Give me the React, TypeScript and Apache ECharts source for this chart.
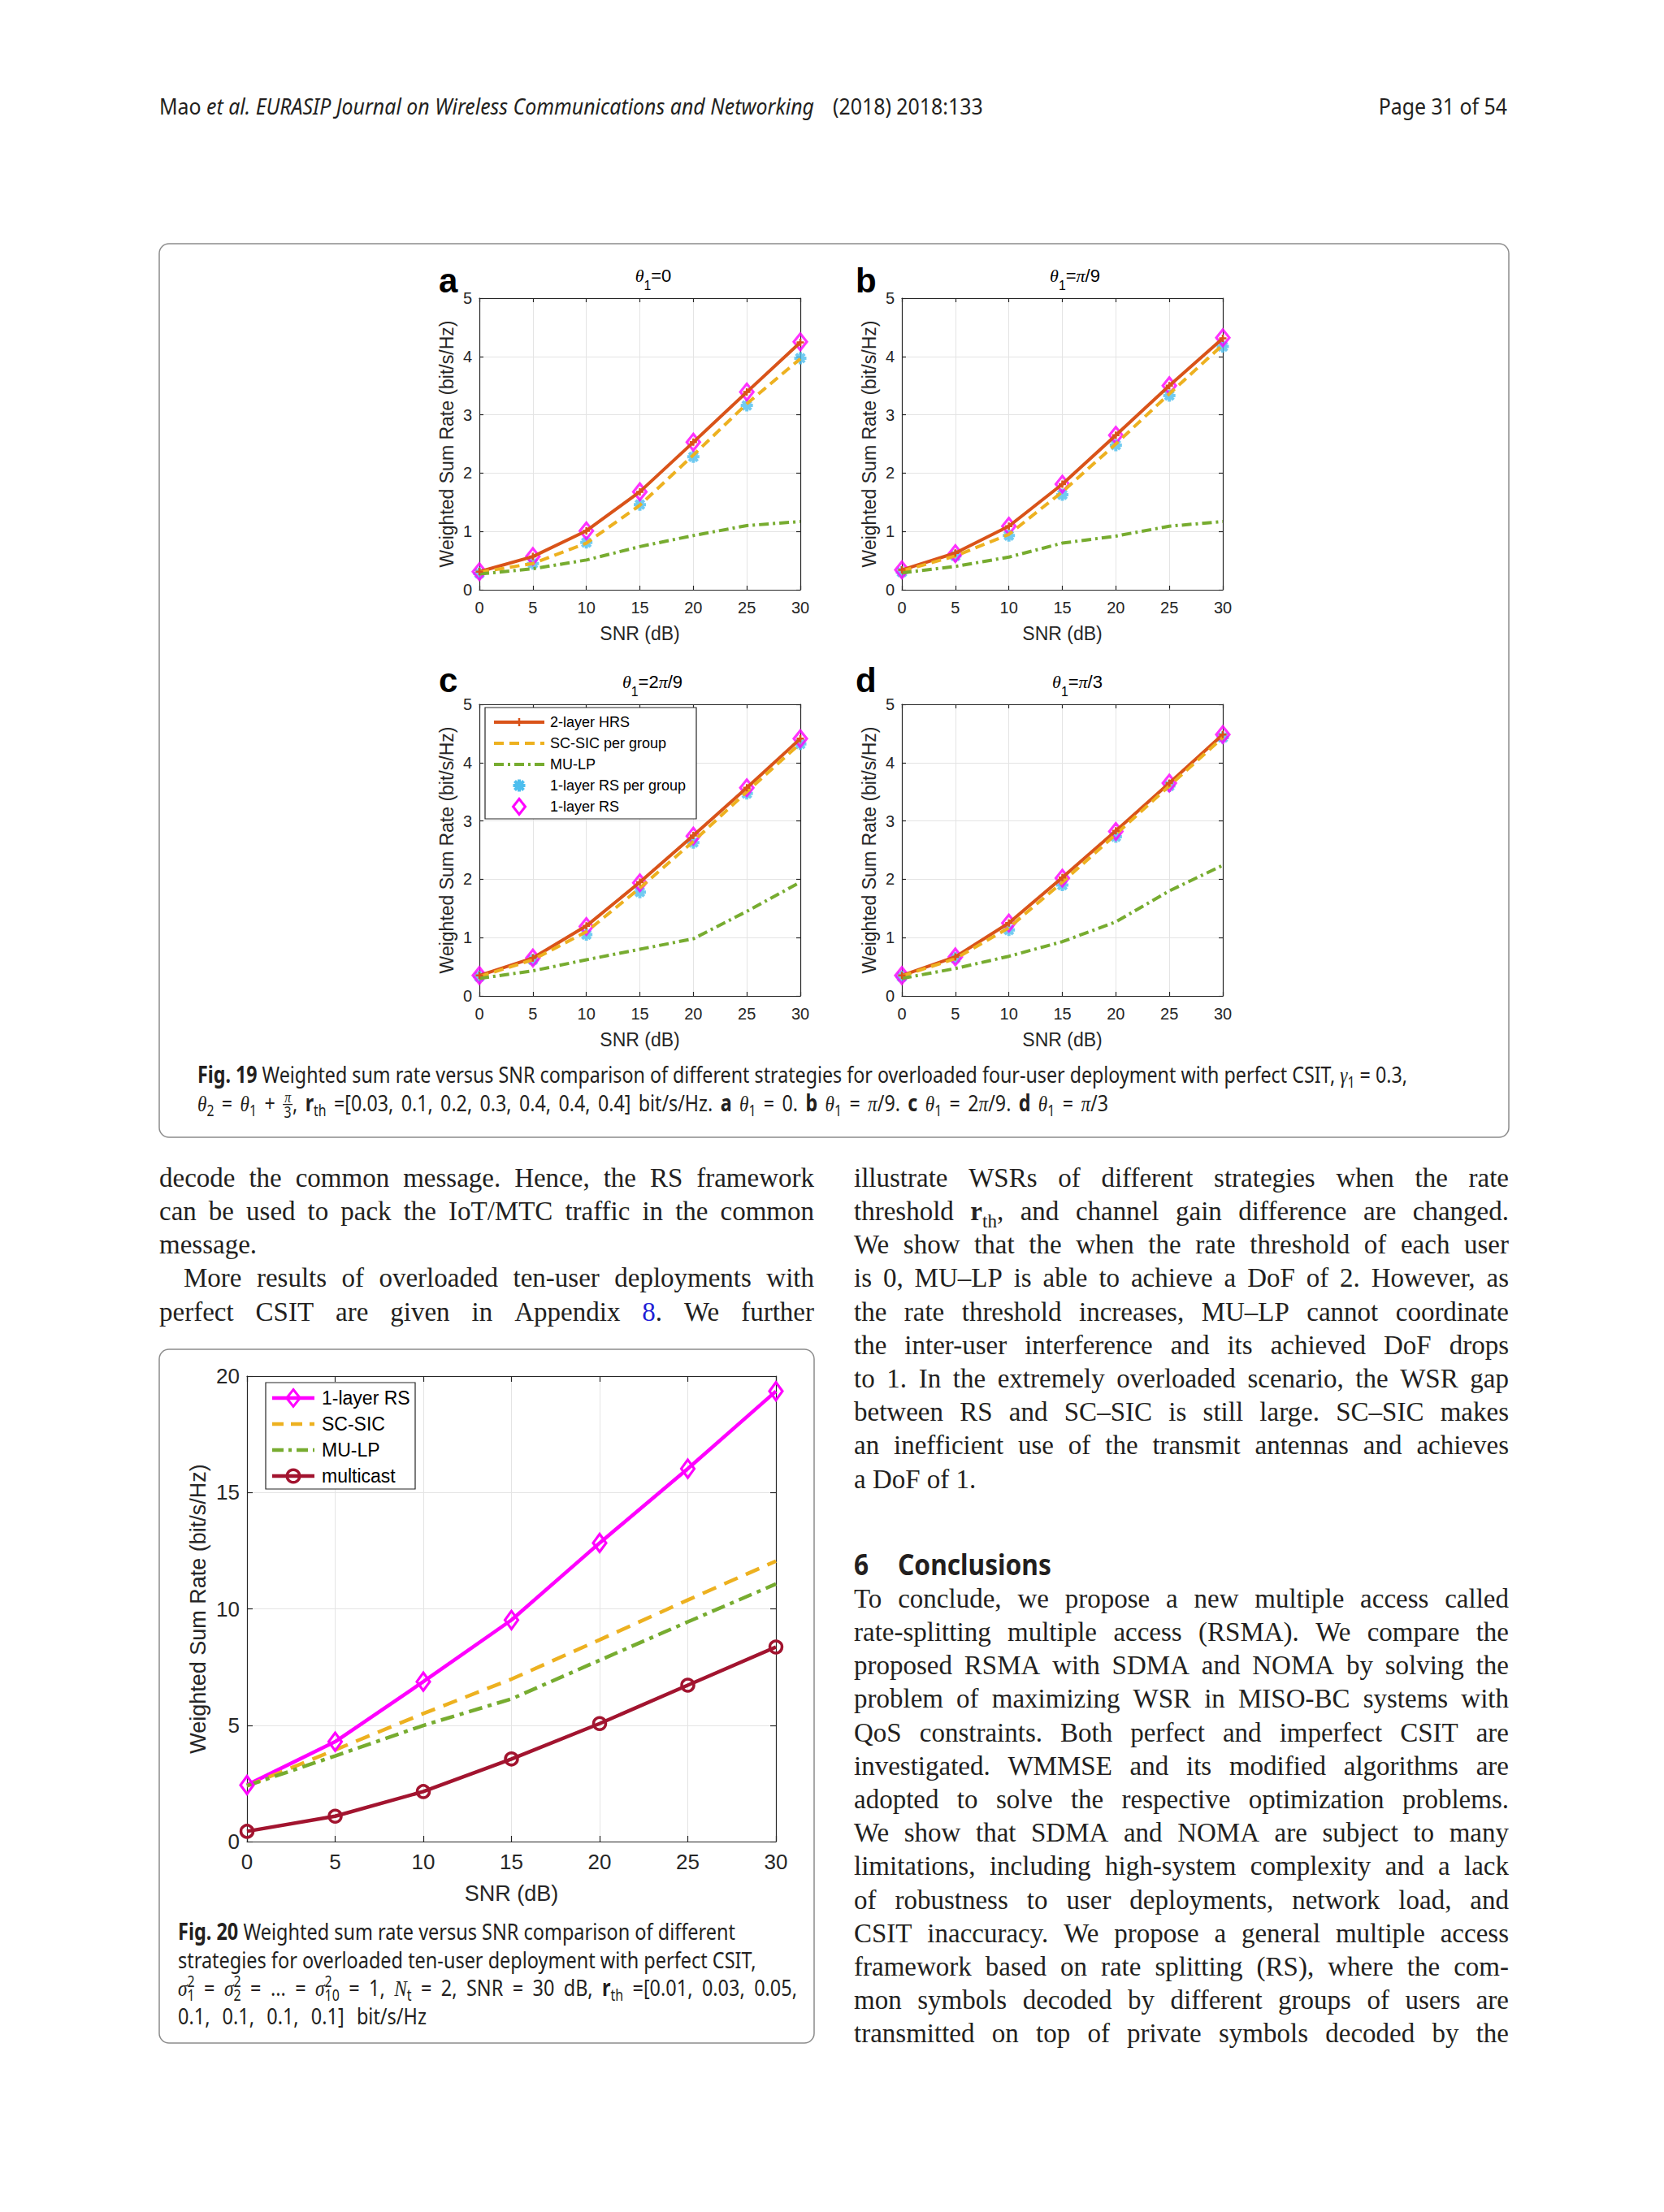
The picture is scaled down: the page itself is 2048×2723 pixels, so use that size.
import React, { useEffect, useRef } from "react";
import * as echarts from "echarts";

// ---------------- data ----------------
const snrDb = [0, 5, 10, 15, 20, 25, 30];
const xMax = 30;
const xStep = 5;
const panelYMax = 5;
const panelYStep = 1;
const f20YMax = 20;
const f20YStep = 5;

const names19 = ["2-layer HRS", "SC-SIC per group", "MU-LP", "1-layer RS per group", "1-layer RS"];
const names20 = ["1-layer RS", "SC-SIC", "MU-LP", "multicast"];

const aHrs = [0.31, 0.57, 1.01, 1.68, 2.53, 3.39, 4.24];
const aSic = [0.3, 0.45, 0.8, 1.45, 2.31, 3.19, 3.96];
const aMulp = [0.27, 0.36, 0.51, 0.74, 0.93, 1.1, 1.17];
const aRsGroup = [0.28, 0.45, 0.81, 1.46, 2.28, 3.16, 3.97];
const aRs1 = [0.31, 0.57, 1.01, 1.68, 2.53, 3.39, 4.25];

const bHrs = [0.34, 0.63, 1.09, 1.81, 2.65, 3.5, 4.31];
const bSic = [0.32, 0.58, 0.95, 1.68, 2.5, 3.36, 4.2];
const bMulp = [0.29, 0.4, 0.56, 0.8, 0.92, 1.09, 1.17];
const bRsGroup = [0.3, 0.58, 0.93, 1.63, 2.48, 3.33, 4.17];
const bRs1 = [0.34, 0.62, 1.09, 1.81, 2.65, 3.5, 4.32];

const cHrs = [0.35, 0.65, 1.2, 1.95, 2.75, 3.57, 4.41];
const cSic = [0.33, 0.62, 1.1, 1.85, 2.65, 3.5, 4.33];
const cMulp = [0.3, 0.43, 0.62, 0.8, 0.98, 1.45, 1.95];
const cRsGroup = [0.33, 0.62, 1.05, 1.78, 2.63, 3.47, 4.32];
const cRs1 = [0.35, 0.65, 1.19, 1.94, 2.74, 3.57, 4.41];

const dHrs = [0.35, 0.67, 1.25, 2.03, 2.83, 3.65, 4.48];
const dSic = [0.34, 0.64, 1.17, 1.95, 2.77, 3.6, 4.43];
const dMulp = [0.3, 0.47, 0.68, 0.93, 1.27, 1.8, 2.24];
const dRsGroup = [0.33, 0.65, 1.13, 1.9, 2.73, 3.6, 4.43];
const dRs1 = [0.35, 0.67, 1.25, 2.02, 2.82, 3.65, 4.48];

const f20Rs1 = [2.43, 4.29, 6.87, 9.52, 12.83, 16.02, 19.35];
const f20Sic = [2.39, 3.94, 5.5, 6.98, 8.67, 10.38, 12.05];
const f20Mulp = [2.4, 3.68, 4.99, 6.13, 7.79, 9.44, 11.07];
const f20Multicast = [0.44, 1.09, 2.15, 3.55, 5.07, 6.72, 8.36];

// ---------------- texts ----------------
const panelLetters = ["a", "b", "c", "d"];
const panelTitles = ["~i{θ}~s{1}=0", "~i{θ}~s{1}=~i{π}/9", "~i{θ}~s{1}=2~i{π}/9", "~i{θ}~s{1}=~i{π}/3"];
const xAxisName = "SNR (dB)";
const yAxisName = "Weighted Sum Rate (bit/s/Hz)";

const headerLeft = "Mao ~e{et al. EURASIP Journal on Wireless Communications and Networking}";
const headerMid = "(2018) 2018:133";
const headerRight = "Page 31 of 54";

const caption19 = [
  "~b{Fig. 19} Weighted sum rate versus SNR comparison of different strategies for overloaded four-user deployment with perfect CSIT, ~i{γ}~s{1} = 0.3,",
  "~i{θ}~s{2} = ~i{θ}~s{1} + ~f{π}{3}, ~b{r}~s{th} =[0.03, 0.1, 0.2, 0.3, 0.4, 0.4, 0.4] bit/s/Hz. ~b{a} ~i{θ}~s{1} = 0. ~b{b} ~i{θ}~s{1} = ~i{π}/9. ~b{c} ~i{θ}~s{1} = 2~i{π}/9. ~b{d} ~i{θ}~s{1} = ~i{π}/3",
];
const caption20 = [
  "~b{Fig. 20} Weighted sum rate versus SNR comparison of different",
  "strategies for overloaded ten-user deployment with perfect CSIT,",
  "~i{σ}~z{2}{1} = ~i{σ}~z{2}{2} = ... = ~i{σ}~z{2}{10} = 1, ~i{N}~s{t} = 2, SNR = 30 dB, ~b{r}~s{th} =[0.01, 0.03, 0.05,",
  "0.1, 0.1, 0.1, 0.1] bit/s/Hz",
];

const leftColumn = [
  "decode the common message. Hence, the RS framework",
  "can be used to pack the IoT/MTC traffic in the common",
  "message.",
  "More results of overloaded ten-user deployments with",
  "perfect CSIT are given in Appendix ~c{8}. We further",
];
const leftJustify = [true, true, false, true, true];
const leftIndent = [0, 0, 0, 30, 0];

const rightColumn = [
  "illustrate WSRs of different strategies when the rate",
  "threshold ~b{r}~s{th}, and channel gain difference are changed.",
  "We show that the when the rate threshold of each user",
  "is 0, MU–LP is able to achieve a DoF of 2. However, as",
  "the rate threshold increases, MU–LP cannot coordinate",
  "the inter-user interference and its achieved DoF drops",
  "to 1. In the extremely overloaded scenario, the WSR gap",
  "between RS and SC–SIC is still large. SC–SIC makes",
  "an inefficient use of the transmit antennas and achieves",
  "a DoF of 1.",
];
const sectionNumber = "6";
const sectionTitle = "Conclusions";
const conclusionLines = [
  "To conclude, we propose a new multiple access called",
  "rate-splitting multiple access (RSMA). We compare the",
  "proposed RSMA with SDMA and NOMA by solving the",
  "problem of maximizing WSR in MISO-BC systems with",
  "QoS constraints. Both perfect and imperfect CSIT are",
  "investigated. WMMSE and its modified algorithms are",
  "adopted to solve the respective optimization problems.",
  "We show that SDMA and NOMA are subject to many",
  "limitations, including high-system complexity and a lack",
  "of robustness to user deployments, network load, and",
  "CSIT inaccuracy. We propose a general multiple access",
  "framework based on rate splitting (RS), where the com-",
  "mon symbols decoded by different groups of users are",
  "transmitted on top of private symbols decoded by the",
];

// ---------------- styling ----------------
const SANS = "Liberation Sans";
const SERIF = "Liberation Serif";
const CAPF = "Noto Sans";
const C = {
  hrs: "#D95319",
  sic: "#EDB120",
  mulp: "#77AC30",
  rsg: "#4DBEEE",
  rs: "#FF00FF",
  mc: "#A2142F",
  ink: "#262626",
  text: "#231F20",
  grid: "#E4E4E4",
};
const PLUS = "path://M5,0L5,10M0,5L10,5";
const AST = "path://M10,0L10,20M0,10L20,10M3,3L17,17M3,17L17,3";

const panelGrids = [
  { left: 590, top: 367, width: 395, height: 359 },
  { left: 1110, top: 367, width: 395, height: 359 },
  { left: 590, top: 867, width: 395, height: 359 },
  { left: 1110, top: 867, width: 395, height: 359 },
];
const f20Grid = { left: 304, top: 1694, width: 651, height: 573 };

// ---------------- text layout helpers ----------------
type Fnt = { family: string; size: number; weight: string; style: string };
type Run = {
  family: string;
  math: string;
  size: number;
  color: string;
  weight?: string;
  style?: string;
  sub?: number;
  subDy?: number;
  supDy?: number;
  z?: number;
};
type Piece = {
  t: string;
  b?: boolean;
  i?: boolean;
  e?: boolean;
  sub?: boolean;
  sup?: boolean;
  blue?: boolean;
  stack?: [string, string];
  frac?: [string, string];
};

const KMAP: Record<string, number> = { "Liberation Sans": 0.3465, "Liberation Serif": 0.3375, "Noto Sans": 0.388 };
let measureCtx: CanvasRenderingContext2D | null = null;
function mw(t: string, f: Fnt): number {
  if (!measureCtx) measureCtx = document.createElement("canvas").getContext("2d");
  measureCtx!.font = `${f.style} ${f.weight} ${f.size}px "${f.family}"`;
  return measureCtx!.measureText(t).width;
}
function textEl(t: string, x: number, baseY: number, f: Fnt, fill: string, align: string, z?: number): any {
  return {
    type: "text",
    x,
    y: baseY - (KMAP[f.family] ?? 0.35) * f.size,
    z: z ?? 10,
    silent: true,
    style: {
      text: t,
      fontFamily: f.family,
      fontSize: f.size,
      fontWeight: f.weight,
      fontStyle: f.style,
      fill,
      textAlign: align,
      textVerticalAlign: "middle",
    },
  };
}
function parse(src: string): Piece[] {
  const out: Piece[] = [];
  let buf = "";
  let i = 0;
  const flush = () => {
    if (buf) {
      out.push({ t: buf });
      buf = "";
    }
  };
  while (i < src.length) {
    const ch = src[i];
    if (ch === "~" && src[i + 2] === "{") {
      flush();
      const cmd = src[i + 1];
      const j = src.indexOf("}", i + 3);
      const a = src.slice(i + 3, j);
      i = j + 1;
      if (cmd === "z" || cmd === "f") {
        const k = src.indexOf("}", i + 1);
        const b = src.slice(i + 1, k);
        i = k + 1;
        out.push(cmd === "z" ? { t: "", stack: [a, b] } : { t: "", frac: [a, b] });
      } else {
        out.push({ t: a, b: cmd === "b", i: cmd === "i", e: cmd === "e", sub: cmd === "s", sup: cmd === "p", blue: cmd === "c" });
      }
    } else {
      buf += ch;
      i++;
    }
  }
  flush();
  return out;
}
function toWords(pieces: Piece[]): Piece[][] {
  const words: Piece[][] = [[]];
  for (const p of pieces) {
    if (p.stack || p.frac) {
      words[words.length - 1].push(p);
      continue;
    }
    const parts = p.t.split(" ");
    parts.forEach((part, idx) => {
      if (idx > 0) words.push([]);
      if (part) words[words.length - 1].push({ ...p, t: part });
    });
  }
  return words.filter((w) => w.length);
}
function fontFor(run: Run, p: Piece, size: number): Fnt {
  return {
    family: p.i ? run.math : run.family,
    size,
    weight: p.b ? "bold" : run.weight || "normal",
    style: p.i || p.e ? "italic" : run.style || "normal",
  };
}
function layoutWord(w: Piece[], run: Run) {
  const els: any[] = [];
  let x = 0;
  const ss = run.size * (run.sub ?? 0.7);
  for (const p of w) {
    if (p.stack || p.frac) {
      const f: Fnt = { family: run.family, size: ss, weight: "normal", style: "normal" };
      const [top, bot] = (p.stack || p.frac)!;
      const w1 = mw(top, f);
      const w2 = mw(bot, f);
      const ww = Math.max(w1, w2);
      if (p.frac) {
        const ft: Fnt = { ...f, family: run.math, style: "italic" };
        const bar = -run.size * 0.3;
        els.push(textEl(top, x + ww / 2 + 1, bar - run.size * 0.08, ft, run.color, "center", run.z));
        els.push(textEl(bot, x + ww / 2 + 1, bar + run.size * 0.58, f, run.color, "center", run.z));
        els.push({
          type: "line",
          z: run.z ?? 10,
          silent: true,
          shape: { x1: x, y1: bar, x2: x + ww + 2, y2: bar },
          style: { stroke: run.color, lineWidth: 1.3 },
        });
        x += ww + 2;
      } else {
        els.push(textEl(top, x, -run.size * (run.supDy ?? 0.4), f, run.color, "left", run.z));
        els.push(textEl(bot, x, run.size * (run.subDy ?? 0.24), f, run.color, "left", run.z));
        x += ww;
      }
      continue;
    }
    const small = p.sub || p.sup;
    const f = fontFor(run, p, small ? ss : run.size);
    const dy = p.sub ? run.size * (run.subDy ?? 0.24) : p.sup ? -run.size * (run.supDy ?? 0.4) : 0;
    els.push(textEl(p.t, x, dy, f, p.blue ? "#1F1FD6" : run.color, "left", run.z));
    x += mw(p.t, f);
  }
  return { width: x, els };
}
function naturalWidth(src: string, run: Run) {
  const words = toWords(parse(src));
  const sp = mw(" ", fontFor(run, { t: "" }, run.size));
  const ls = words.map((w) => layoutWord(w, run));
  return ls.reduce((s, l) => s + l.width, 0) + (ls.length - 1) * sp;
}
type LineOpts = { x: number; baseY: number; width?: number; justify?: boolean; align?: "left" | "center" | "right"; scale?: number };
function buildLine(src: string, run: Run, o: LineOpts): any {
  const words = toWords(parse(src));
  const space = mw(" ", fontFor(run, { t: "" }, run.size));
  const laid = words.map((w) => layoutWord(w, run));
  const sum = laid.reduce((s, l) => s + l.width, 0);
  const n = laid.length;
  let gap = space;
  let scale = o.scale ?? 1;
  if (o.justify && o.width && n > 1) {
    gap = (o.width / scale - sum) / (n - 1);
    const minGap = space * 0.55;
    if (gap < minGap) {
      gap = minGap;
      scale = o.width / (sum + (n - 1) * minGap);
    }
  }
  const total = sum + (n - 1) * gap;
  let x0 = o.x;
  if (o.align === "center") x0 = o.x - (total * scale) / 2;
  else if (o.align === "right") x0 = o.x - total * scale;
  const children: any[] = [];
  let cx = 0;
  laid.forEach((l) => {
    l.els.forEach((e) => {
      e.x = (e.x || 0) + cx;
      e.y = (e.y || 0) + o.baseY;
      children.push(e);
    });
    cx += l.width + gap;
  });
  return { type: "group", x: x0, y: 0, scaleX: scale, children };
}

// ---------------- legends ----------------
type LegendItem = { name: string; color: string; dash: number[] | null | "solid"; marker: string | null };
function markerEls(kind: string | null, x: number, y: number, color: string, s: number): any[] {
  const z = 60;
  if (kind === "plus")
    return [
      { type: "line", z, shape: { x1: x - 5 * s, y1: y, x2: x + 5 * s, y2: y }, style: { stroke: color, lineWidth: 2.5 } },
      { type: "line", z, shape: { x1: x, y1: y - 5 * s, x2: x, y2: y + 5 * s }, style: { stroke: color, lineWidth: 2.5 } },
    ];
  if (kind === "ast") {
    const h = 7.5 * s;
    const d = 5.5 * s;
    return [
      [x - h, y, x + h, y],
      [x, y - h, x, y + h],
      [x - d, y - d, x + d, y + d],
      [x - d, y + d, x + d, y - d],
    ].map((p) => ({ type: "line", z, shape: { x1: p[0], y1: p[1], x2: p[2], y2: p[3] }, style: { stroke: color, lineWidth: 4 } }));
  }
  if (kind === "diamond") {
    const w = 7.5 * s;
    const h = 9.5 * s;
    return [
      {
        type: "polygon",
        z,
        shape: { points: [[x, y - h], [x + w, y], [x, y + h], [x - w, y]] },
        style: { fill: "none", stroke: color, lineWidth: 3 },
      },
    ];
  }
  if (kind === "circle")
    return [{ type: "circle", z, shape: { cx: x, cy: y, r: 7 * s }, style: { fill: "none", stroke: color, lineWidth: 3.5 } }];
  return [];
}
function legendEls(
  box: { x: number; y: number; width: number; height: number },
  items: LegendItem[],
  o: { lx1: number; lx2: number; tx: number; y0: number; dy: number; fs: number; lw: number; ms: number }
): any[] {
  const els: any[] = [{ type: "rect", z: 50, shape: box, style: { fill: "#ffffff", stroke: C.ink, lineWidth: 1.2 } }];
  items.forEach((it, i) => {
    const cy = o.y0 + i * o.dy;
    if (it.dash) {
      els.push({
        type: "line",
        z: 55,
        shape: { x1: o.lx1, y1: cy, x2: o.lx2, y2: cy },
        style: { stroke: it.color, lineWidth: o.lw, lineDash: it.dash === "solid" ? null : it.dash },
      });
    }
    markerEls(it.marker, (o.lx1 + o.lx2) / 2, cy, it.color, o.ms).forEach((e) => els.push(e));
    els.push({
      type: "text",
      z: 60,
      x: o.tx,
      y: cy,
      style: { text: it.name, fontFamily: SANS, fontSize: o.fs, fill: "#000000", textAlign: "left", textVerticalAlign: "middle" },
    });
  });
  return els;
}

// ---------------- axes / series ----------------
type AxisCfg = { tick: number; name: number; mX: number; mY: number; gapX: number; gapY: number; tickLen: number };
const panelCfg: AxisCfg = { tick: 20, name: 23, mX: 12, mY: 9, gapX: 42, gapY: 29, tickLen: 5 };
const f20Cfg: AxisCfg = { tick: 26, name: 27, mX: 12, mY: 9, gapX: 50, gapY: 47, tickLen: 7 };

function axesFor(g: number, cfg: AxisCfg, yMax: number, yStep: number) {
  const axLine = { show: true, onZero: false, lineStyle: { color: C.ink, width: 1.2 } };
  const tick = { show: true, inside: true, length: cfg.tickLen, lineStyle: { color: C.ink, width: 1.2 } };
  const lab = { fontFamily: SANS, fontSize: cfg.tick, color: C.ink };
  const split = { show: true, lineStyle: { color: C.grid, width: 1 } };
  const nameStyle = { fontFamily: SANS, fontSize: cfg.name, color: C.ink };
  const x = [
    {
      type: "value", gridIndex: g, min: 0, max: xMax, interval: xStep, position: "bottom",
      name: xAxisName, nameLocation: "middle", nameGap: cfg.gapX, nameTextStyle: nameStyle,
      axisLine: axLine, axisTick: tick, axisLabel: { ...lab, margin: cfg.mX }, splitLine: split,
    },
    {
      type: "value", gridIndex: g, min: 0, max: xMax, interval: xStep, position: "top",
      axisLine: axLine, axisTick: tick, axisLabel: { show: false }, splitLine: { show: false },
    },
  ];
  const y = [
    {
      type: "value", gridIndex: g, min: 0, max: yMax, interval: yStep, position: "left",
      name: yAxisName, nameLocation: "middle", nameGap: cfg.gapY, nameTextStyle: nameStyle,
      axisLine: axLine, axisTick: tick, axisLabel: { ...lab, margin: cfg.mY }, splitLine: split,
    },
    {
      type: "value", gridIndex: g, min: 0, max: yMax, interval: yStep, position: "right",
      axisLine: axLine, axisTick: tick, axisLabel: { show: false }, splitLine: { show: false },
    },
  ];
  return { x, y };
}
const pts = (arr: number[]) => snrDb.map((x, i) => [x, arr[i]]);
function panelSeries(g: number, hrs: number[], sic: number[], mulp: number[], rsg: number[], rs1: number[]) {
  const base = { xAxisIndex: 2 * g, yAxisIndex: 2 * g, clip: false, silent: true, emphasis: { disabled: true } };
  return [
    {
      ...base, type: "line", name: names19[0], data: pts(hrs), symbol: PLUS, symbolSize: 9,
      lineStyle: { color: C.hrs, width: 4 }, itemStyle: { color: C.hrs, borderColor: C.hrs, borderWidth: 2.5 },
    },
    { ...base, type: "line", name: names19[1], data: pts(sic), symbol: "none", lineStyle: { color: C.sic, width: 4, type: [12, 7] } },
    { ...base, type: "line", name: names19[2], data: pts(mulp), symbol: "none", lineStyle: { color: C.mulp, width: 4, type: [12, 5, 3, 5] } },
    {
      ...base, type: "scatter", name: names19[3], data: pts(rsg), symbol: AST, symbolSize: 15,
      itemStyle: { color: "rgba(0,0,0,0)", borderColor: C.rsg, borderWidth: 4 },
    },
    {
      ...base, type: "scatter", name: names19[4], data: pts(rs1), symbol: "diamond", symbolSize: [16, 20],
      itemStyle: { color: "rgba(0,0,0,0)", borderColor: C.rs, borderWidth: 3.2 },
    },
  ];
}
function f20Series(g: number) {
  const base = { xAxisIndex: 2 * g, yAxisIndex: 2 * g, clip: false, silent: true, emphasis: { disabled: true } };
  return [
    {
      ...base, type: "line", name: names20[0], data: pts(f20Rs1), symbol: "diamond", symbolSize: [16, 22],
      lineStyle: { color: C.rs, width: 4.5 }, itemStyle: { color: "rgba(0,0,0,0)", borderColor: C.rs, borderWidth: 3.2 },
    },
    { ...base, type: "line", name: names20[1], data: pts(f20Sic), symbol: "none", lineStyle: { color: C.sic, width: 4.5, type: [18, 11] } },
    { ...base, type: "line", name: names20[2], data: pts(f20Mulp), symbol: "none", lineStyle: { color: C.mulp, width: 4.5, type: [17, 7, 5, 7] } },
    {
      ...base, type: "line", name: names20[3], data: pts(f20Multicast), symbol: "circle", symbolSize: 15,
      lineStyle: { color: C.mc, width: 4.5 }, itemStyle: { color: "rgba(0,0,0,0)", borderColor: C.mc, borderWidth: 3.5 },
    },
  ];
}

// ---------------- page graphics ----------------
function buildGraphics(): any[] {
  const g: any[] = [];
  // figure frames
  g.push({ type: "rect", z: 1, shape: { x: 196, y: 300, width: 1661, height: 1100, r: 12 }, style: { fill: "none", stroke: "#8C8C8C", lineWidth: 1.5 } });
  g.push({ type: "rect", z: 1, shape: { x: 196, y: 1661, width: 806, height: 854, r: 12 }, style: { fill: "none", stroke: "#8C8C8C", lineWidth: 1.5 } });

  // header
  const headRun: Run = { family: CAPF, math: SERIF, size: 27, color: C.text };
  const hs = 806 / naturalWidth(headerLeft, headRun);
  g.push(buildLine(headerLeft, headRun, { x: 196, baseY: 141, scale: hs }));
  g.push(buildLine(headerMid, headRun, { x: 1025, baseY: 141, scale: hs }));
  g.push(buildLine(headerRight, headRun, { x: 1855, baseY: 141, scale: hs, align: "right" }));

  // panel letters and titles
  const letterPos = [[540, 360], [1053, 360], [540, 852], [1053, 852]];
  const titlePos = [[804, 347], [1323, 347], [803, 847], [1326, 847]];
  const titleRun: Run = { family: SANS, math: SERIF, size: 22, color: "#000000", sub: 0.72, subDy: 0.45 };
  panelLetters.forEach((L, i) => {
    g.push(textEl(L, letterPos[i][0], letterPos[i][1], { family: SANS, size: 42, weight: "bold", style: "normal" }, "#000000", "left", 10));
    g.push(buildLine(panelTitles[i], titleRun, { x: titlePos[i][0], baseY: titlePos[i][1], align: "center" }));
  });

  // legend fig 19 (panel c)
  const leg19: LegendItem[] = [
    { name: names19[0], color: C.hrs, dash: "solid", marker: "plus" },
    { name: names19[1], color: C.sic, dash: [12, 7], marker: null },
    { name: names19[2], color: C.mulp, dash: [12, 5, 3, 5], marker: null },
    { name: names19[3], color: C.rsg, dash: null, marker: "ast" },
    { name: names19[4], color: C.rs, dash: null, marker: "diamond" },
  ];
  legendEls({ x: 597, y: 871, width: 260, height: 137 }, leg19, { lx1: 608, lx2: 670, tx: 677, y0: 889, dy: 26, fs: 18, lw: 4, ms: 1 }).forEach((e) => g.push(e));

  // legend fig 20
  const leg20: LegendItem[] = [
    { name: names20[0], color: C.rs, dash: "solid", marker: "diamond" },
    { name: names20[1], color: C.sic, dash: [14, 9], marker: null },
    { name: names20[2], color: C.mulp, dash: [14, 6, 4, 6], marker: null },
    { name: names20[3], color: C.mc, dash: "solid", marker: "circle" },
  ];
  legendEls({ x: 327, y: 1702, width: 184, height: 131 }, leg20, { lx1: 335, lx2: 387, tx: 396, y0: 1721, dy: 32, fs: 23, lw: 4.5, ms: 1.1 }).forEach((e) => g.push(e));

  // captions
  const capRun: Run = { family: CAPF, math: SERIF, size: 28, color: C.text, sub: 0.68, subDy: 0.22 };
  const s19 = 1489 / naturalWidth(caption19[0], capRun);
  const cap19Y = [1333, 1368];
  const cap19W = [0, 1121];
  caption19.forEach((l, i) =>
    g.push(buildLine(l, capRun, { x: 243, baseY: cap19Y[i], scale: s19, width: cap19W[i] || undefined, justify: cap19W[i] > 0 }))
  );
  const s20 = 686 / naturalWidth(caption20[0], capRun);
  const cap20Y = [2388, 2423, 2457, 2492];
  const cap20W = [0, 0, 762, 306];
  caption20.forEach((l, i) =>
    g.push(buildLine(l, capRun, { x: 219, baseY: cap20Y[i], scale: s20, width: cap20W[i] || undefined, justify: cap20W[i] > 0 }))
  );

  // body text
  const bodyRun: Run = { family: SERIF, math: SERIF, size: 33, color: C.text, sub: 0.7, subDy: 0.25 };
  const step = 41.2;
  leftColumn.forEach((l, i) => {
    const x = 196 + leftIndent[i];
    g.push(buildLine(l, bodyRun, { x, baseY: 1461 + i * step, width: 1002 - x, justify: leftJustify[i] }));
  });
  rightColumn.forEach((l, i) => {
    g.push(buildLine(l, bodyRun, { x: 1051, baseY: 1461 + i * step, width: 806, justify: i < rightColumn.length - 1 }));
  });
  const headF: Fnt = { family: CAPF, size: 35, weight: "bold", style: "normal" };
  const hsc = 189 / mw(sectionTitle, headF);
  g.push({ type: "group", x: 1051, y: 0, scaleX: hsc, children: [textEl(sectionNumber, 0, 1939, headF, C.text, "left", 10)] });
  g.push({ type: "group", x: 1105, y: 0, scaleX: hsc, children: [textEl(sectionTitle, 0, 1939, headF, C.text, "left", 10)] });
  conclusionLines.forEach((l, i) => {
    g.push(buildLine(l, bodyRun, { x: 1051, baseY: 1979 + i * step, width: 806, justify: true }));
  });
  return g;
}

function buildOption(): any {
  const grids = [...panelGrids, f20Grid].map((gr) => ({ ...gr, show: false, containLabel: false }));
  const xAxis: any[] = [];
  const yAxis: any[] = [];
  for (let i = 0; i < 4; i++) {
    const a = axesFor(i, panelCfg, panelYMax, panelYStep);
    xAxis.push(...a.x);
    yAxis.push(...a.y);
  }
  const a20 = axesFor(4, f20Cfg, f20YMax, f20YStep);
  xAxis.push(...a20.x);
  yAxis.push(...a20.y);
  const series = [
    ...panelSeries(0, aHrs, aSic, aMulp, aRsGroup, aRs1),
    ...panelSeries(1, bHrs, bSic, bMulp, bRsGroup, bRs1),
    ...panelSeries(2, cHrs, cSic, cMulp, cRsGroup, cRs1),
    ...panelSeries(3, dHrs, dSic, dMulp, dRsGroup, dRs1),
    ...f20Series(4),
  ];
  return {
    animation: false,
    backgroundColor: "#ffffff",
    textStyle: { fontFamily: SANS },
    grid: grids,
    xAxis,
    yAxis,
    series,
    graphic: { elements: buildGraphics() },
  };
}

export default function App() {
  const ref = useRef<HTMLDivElement>(null);
  useEffect(() => {
    if (!ref.current) return;
    const chart = echarts.init(ref.current, null, { renderer: "svg" });
    chart.setOption(buildOption());
    return () => chart.dispose();
  }, []);
  return (
    <div
      ref={ref}
      style={{ position: "absolute", left: 0, top: 0, width: 2048, height: 2723, background: "#ffffff" }}
    />
  );
}
